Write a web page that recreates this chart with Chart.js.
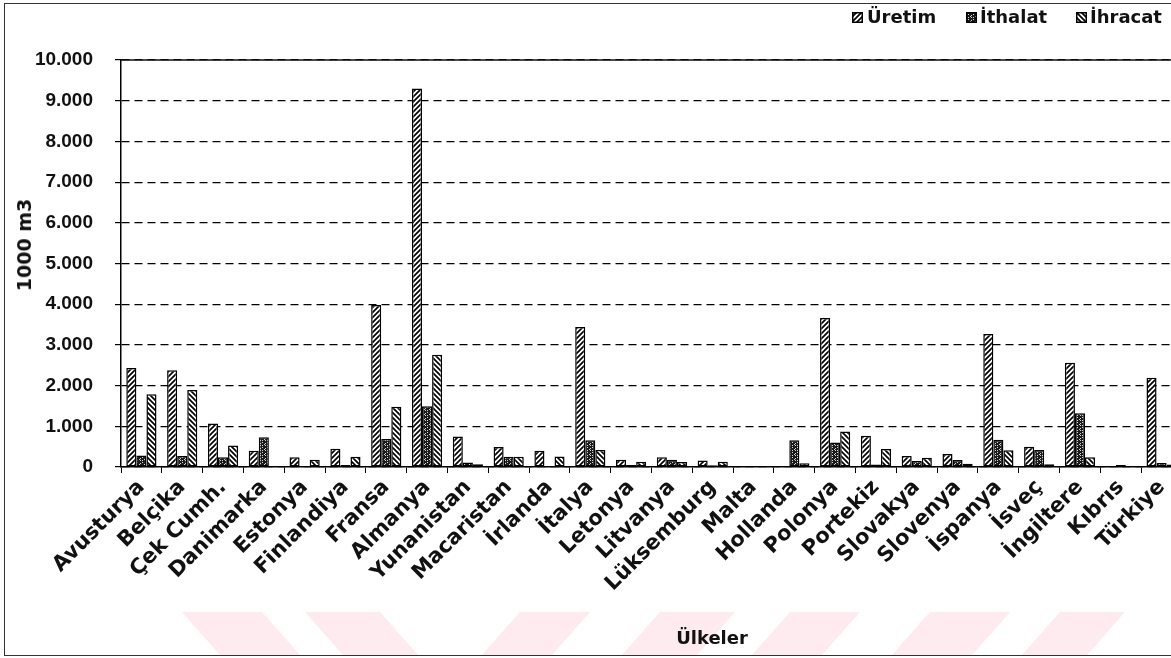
<!DOCTYPE html>
<html>
<head>
<meta charset="utf-8">
<script src="https://cdn.jsdelivr.net/npm/chart.js@4/dist/chart.umd.min.js"></script>
<style>
  html, body { margin: 0; padding: 0; background: #fff; }
  #wrap { position: relative; width: 1171px; height: 658px; overflow: hidden; background: #fff; }
  #mark { position: absolute; left: 0; top: 612px; width: 1171px; height: 43px; }
  #frame { position: absolute; left: 4px; top: 3px; width: 1220px; height: 651px; border: 1px solid #333; }
  #chartBox { position: absolute; left: 0; top: 0; width: 1185px; height: 658px; }
  .lbl { position: absolute; font: bold 18px "DejaVu Sans", sans-serif; color: #111; white-space: nowrap; }
  .sw { position: absolute; top: 12px; width: 11px; height: 11px; }
  #ytitle { position: absolute; left: 24px; top: 245px; transform: translate(-50%, -50%) rotate(-90deg); font: bold 19px "DejaVu Sans", sans-serif; white-space: nowrap; color: #111; }
  #xtitle { position: absolute; left: 712px; top: 637px; transform: translate(-50%, -50%); font: bold 18px "DejaVu Sans", sans-serif; color: #111; }
</style>
</head>
<body>
<div id="wrap">
  <svg id="mark" width="1171" height="43">
    <g fill="#fdebef">
      <polygon points="182,0 262,0 300,43 220,43"/>
      <polygon points="305,0 380,0 418,43 343,43"/>
      <polygon points="520,0 590,0 552,43 482,43"/>
      <polygon points="660,0 735,0 697,43 622,43"/>
      <polygon points="790,0 860,0 822,43 752,43"/>
      <polygon points="930,0 1010,0 972,43 892,43"/>
      <polygon points="1060,0 1125,0 1087,43 1022,43"/>
    </g>
  </svg>
  <div id="frame"></div>
  <div id="chartBox"><canvas id="chart" width="1185" height="658"></canvas></div>
  <canvas class="sw" id="sw0" width="11" height="11" style="left:852px"></canvas>
  <div class="lbl" style="left:867px;top:6px">Üretim</div>
  <canvas class="sw" id="sw1" width="11" height="11" style="left:966px"></canvas>
  <div class="lbl" style="left:980px;top:6px">İthalat</div>
  <canvas class="sw" id="sw2" width="11" height="11" style="left:1076px"></canvas>
  <div class="lbl" style="left:1090px;top:6px">İhracat</div>
  <div id="ytitle">1000 m3</div>
  <div id="xtitle">Ülkeler</div>
</div>
<script>
const countries = ['Avusturya', 'Belçika', 'Çek Cumh.', 'Danimarka', 'Estonya', 'Finlandiya', 'Fransa',
  'Almanya', 'Yunanistan', 'Macaristan', 'İrlanda', 'İtalya', 'Letonya', 'Litvanya', 'Lüksemburg',
  'Malta', 'Hollanda', 'Polonya', 'Portekiz', 'Slovakya', 'Slovenya', 'İspanya', 'İsveç',
  'İngiltere', 'Kıbrıs', 'Türkiye'];
const seriesNames = ['Üretim', 'İthalat', 'İhracat'];
const uretim  = [2430, 2380, 1070, 400, 240, 450, 3980, 9300, 750, 490, 400, 3440, 180, 240, 160,
  0, 0, 3660, 770, 270, 320, 3270, 500, 2560, 10, 2190];
const ithalat = [280, 270, 240, 730, 10, 50, 690, 1490, 110, 250, 20, 660, 50, 180, 40,
  0, 660, 600, 60, 150, 170, 670, 420, 1320, 50, 100];
const ihracat = [1790, 1890, 530, 20, 180, 250, 1480, 2760, 70, 250, 260, 420, 130, 120, 130,
  0, 90, 870, 440, 230, 80, 410, 70, 240, 10, 60];
const yTicks = [0, 1000, 2000, 3000, 4000, 5000, 6000, 7000, 8000, 9000, 10000];

// Helper: build the fill patterns (hatch / dark mesh)
function makeTile(kind) {
  const c = document.createElement('canvas');
  c.width = c.height = 5;
  const x = c.getContext('2d');
  if (kind === 'mesh') {
    x.fillStyle = '#1a1a1a';
    x.fillRect(0, 0, 5, 5);
    x.fillStyle = '#d8d8d8';
    x.fillRect(0, 0, 1, 1);
    x.fillRect(2, 2, 1, 1);
    x.fillRect(4, 4, 1, 1);
    x.fillRect(2, 0, 1, 1);
    x.fillRect(0, 3, 1, 1);
    return c;
  }
  x.fillStyle = '#fff';
  x.fillRect(0, 0, 5, 5);
  x.strokeStyle = '#000';
  x.lineWidth = 1.7;
  x.beginPath();
  if (kind === 'fwd') {
    x.moveTo(-1, 6); x.lineTo(6, -1);
    x.moveTo(-1, 1); x.lineTo(1, -1);
    x.moveTo(4, 6); x.lineTo(6, 4);
  } else {
    x.moveTo(-1, -1); x.lineTo(6, 6);
    x.moveTo(-1, 4); x.lineTo(1, 6);
    x.moveTo(4, -1); x.lineTo(6, 1);
  }
  x.stroke();
  return c;
}

const ctx = document.getElementById('chart').getContext('2d');
const kinds = ['fwd', 'mesh', 'back'];
const patterns = kinds.map(k => ctx.createPattern(makeTile(k), 'repeat'));

// legend swatches
kinds.forEach((k, i) => {
  const s = document.getElementById('sw' + i).getContext('2d');
  s.fillStyle = s.createPattern(makeTile(k), 'repeat');
  s.fillRect(0, 0, 11, 11);
  s.strokeStyle = '#000';
  s.lineWidth = 1.5;
  s.strokeRect(0.75, 0.75, 9.5, 9.5);
});

const fmt = v => String(v).replace(/\B(?=(\d{3})+(?!\d))/g, '.');

// solid frame line along the top of the plot
const topLine = {
  id: 'topLine',
  afterDraw(chart) {
    const a = chart.chartArea, c = chart.ctx;
    c.save();
    c.strokeStyle = '#111';
    c.lineWidth = 1.5;
    c.beginPath();
    c.moveTo(a.left, a.top);
    c.lineTo(a.right, a.top);
    c.stroke();
    c.restore();
  }
};

new Chart(ctx, {
  type: 'bar',
  data: {
    labels: countries,
    datasets: [uretim, ithalat, ihracat].map((d, i) => ({
      label: seriesNames[i],
      data: d,
      backgroundColor: patterns[i],
      borderColor: '#000',
      borderWidth: 1.5,
      borderSkipped: false,
      categoryPercentage: 0.74,
      barPercentage: 1.0
    }))
  },
  options: {
    responsive: false,
    animation: false,
    layout: { padding: { top: 60, right: 3, left: 0, bottom: 0 } },
    plugins: { legend: { display: false }, tooltip: { enabled: false } },
    scales: {
      x: {
        afterFit: s => { s.height = 191; },
        grid: { drawOnChartArea: false, drawTicks: true, tickLength: 6, color: '#000', lineWidth: 1 },
        border: { color: '#000', width: 1.5 },
        ticks: {
          autoSkip: false, maxRotation: 45, minRotation: 45, padding: 2,
          color: '#111', font: { family: 'DejaVu Sans', weight: 'bold', size: 21 }
        }
      },
      y: {
        min: 0, max: 10000,
        afterFit: s => { s.width = 121; },
        afterBuildTicks: s => { s.ticks = yTicks.map(v => ({ value: v })); },
        grid: { color: '#000', lineWidth: 1.2, tickLength: 6, tickColor: '#000', tickBorderDash: [] },
        border: { color: '#000', width: 1.5, dash: [8, 5] },
        ticks: {
          padding: 22, color: '#111', callback: v => fmt(v),
          font: { family: 'Liberation Sans', weight: 'bold', size: 19 }
        }
      }
    }
  },
  plugins: [topLine]
});
</script>
</body>
</html>
